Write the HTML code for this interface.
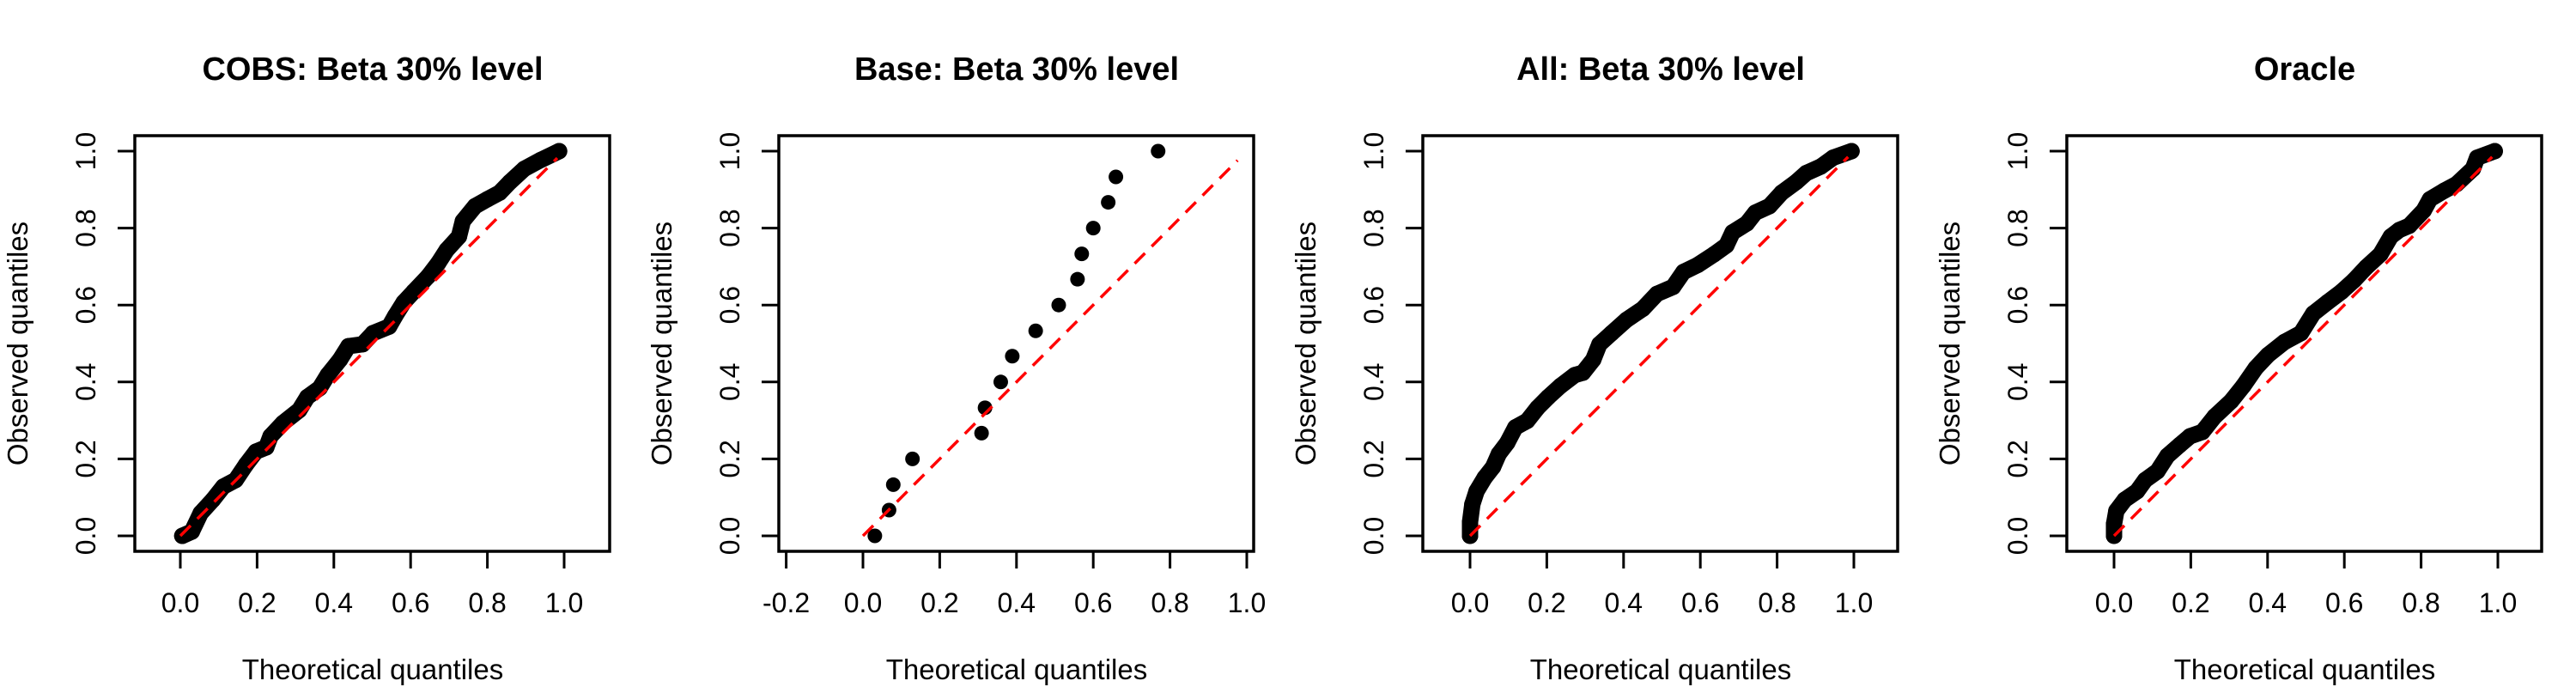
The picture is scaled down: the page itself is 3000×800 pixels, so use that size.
<!DOCTYPE html>
<html><head><meta charset="utf-8"><style>
html,body{margin:0;padding:0;background:#fff;}
svg{display:block;}
text{font-family:"Liberation Sans",Arial,sans-serif;fill:#000;}
</style></head><body>
<svg id="fig" width="3000" height="800" viewBox="0 0 3000 800" xmlns="http://www.w3.org/2000/svg"></svg>
<script>
const titles = ["COBS: Beta 30% level","Base: Beta 30% level","All: Beta 30% level","Oracle"];
const xTicks = [0,0.2,0.4,0.6,0.8,1.0];
const xTicksBase = [-0.2,0,0.2,0.4,0.6,0.8,1.0];
const yTicks = [0,0.2,0.4,0.6,0.8,1.0];
const cobsX = [0.005,0.03,0.053,0.085,0.112,0.144,0.171,0.197,0.224,0.235,0.267,0.31,0.331,0.363,0.384,0.416,0.438,0.475,0.502,0.544,0.56,0.582,0.608,0.646,0.672,0.694,0.726,0.736,0.768,0.8,0.832,0.859,0.896,0.939,0.987];
const cobsY = [0,0.011,0.059,0.094,0.128,0.145,0.185,0.219,0.23,0.259,0.293,0.327,0.361,0.384,0.418,0.458,0.493,0.498,0.527,0.544,0.572,0.607,0.635,0.675,0.709,0.743,0.778,0.818,0.857,0.875,0.892,0.92,0.954,0.977,1.0];
const baseX = [0.031,0.068,0.079,0.129,0.309,0.318,0.359,0.389,0.45,0.51,0.559,0.57,0.6,0.639,0.659,0.769];
const baseY = [0,0.067,0.133,0.2,0.267,0.333,0.4,0.467,0.533,0.6,0.667,0.733,0.8,0.867,0.933,1.0];
const allX = [0,0,0.006,0.017,0.038,0.06,0.075,0.097,0.118,0.149,0.176,0.204,0.236,0.273,0.294,0.321,0.337,0.369,0.407,0.45,0.487,0.529,0.556,0.593,0.636,0.668,0.684,0.721,0.743,0.78,0.812,0.85,0.876,0.914,0.946,0.994];
const allY = [0,0.036,0.082,0.116,0.151,0.179,0.213,0.242,0.282,0.299,0.333,0.361,0.39,0.418,0.424,0.458,0.498,0.527,0.561,0.59,0.629,0.647,0.686,0.704,0.732,0.755,0.789,0.812,0.84,0.857,0.892,0.92,0.943,0.96,0.983,1.0];
const oracleX = [0,0,0.006,0.028,0.06,0.081,0.113,0.139,0.171,0.198,0.23,0.262,0.305,0.337,0.369,0.401,0.444,0.487,0.519,0.556,0.593,0.625,0.657,0.694,0.721,0.743,0.769,0.807,0.823,0.86,0.892,0.935,0.946,0.992];
const oracleY = [0,0.031,0.065,0.094,0.116,0.145,0.168,0.208,0.236,0.259,0.27,0.31,0.35,0.39,0.436,0.47,0.504,0.527,0.578,0.607,0.635,0.664,0.698,0.732,0.778,0.795,0.806,0.846,0.875,0.897,0.914,0.954,0.983,1.0];
const refEnd = [0.982,0.976,0.985,0.985];

const NS="http://www.w3.org/2000/svg";
const svg=document.getElementById('fig');
function mk(tag,attrs,parent){const e=document.createElementNS(NS,tag);for(const k in attrs)e.setAttribute(k,attrs[k]);(parent||svg).appendChild(e);return e;}

const panels=[
 {xs:cobsX,ys:cobsY,ticks:xTicks,x0:210,dense:true},
 {xs:baseX,ys:baseY,ticks:xTicksBase,x0:255,dense:false},
 {xs:allX,ys:allY,ticks:xTicks,x0:212,dense:true},
 {xs:oracleX,ys:oracleY,ticks:xTicks,x0:212,dense:true}
];
const UX=447, Y0=624, UY=448;
panels.forEach((p,i)=>{
  const ox=750*i;
  const g=mk('g',{});
  
  
  const sx=v=>ox+p.x0+v*UX, sy=v=>Y0-v*UY;
  const t=mk('text',{x:ox+434,y:93,'text-anchor':'middle','font-size':38,'font-weight':'bold'},g);
  t.textContent=titles[i];
  
  
  const xa=mk('line',{x1:sx(p.ticks[0]),x2:sx(p.ticks[p.ticks.length-1]),y1:642,y2:642,stroke:'#000','stroke-width':3},g);
  
  
  p.ticks.forEach(v=>{
    const tk=mk('line',{x1:sx(v),x2:sx(v),y1:642,y2:662,stroke:'#000','stroke-width':3},g);
    
    
    const tl=mk('text',{x:sx(v),y:713,'text-anchor':'middle','font-size':32},g);
    tl.textContent=v.toFixed(1);
    
    
  });
  const ya=mk('line',{x1:ox+157,x2:ox+157,y1:sy(0),y2:sy(1),stroke:'#000','stroke-width':3},g);
  
  
  yTicks.forEach(v=>{
    const tk=mk('line',{x1:ox+137,x2:ox+157,y1:sy(v),y2:sy(v),stroke:'#000','stroke-width':3},g);
    
    
    const tl=mk('text',{x:0,y:0,'text-anchor':'middle','font-size':32,transform:`translate(${ox+111},${sy(v)}) rotate(-90)`},g);
    tl.textContent=v.toFixed(1);
    
    
  });
  const xl=mk('text',{x:ox+434,y:791,'text-anchor':'middle','font-size':33},g);
  xl.textContent='Theoretical quantiles';
  
  
  const yl=mk('text',{x:0,y:0,'text-anchor':'middle','font-size':33,transform:`translate(${ox+32},400) rotate(-90)`},g);
  yl.textContent='Observed quantiles';
  
  
  const bx=mk('rect',{x:ox+157,y:158,width:553,height:484,fill:'none',stroke:'#000','stroke-width':3.5},g);
  
  
  if(p.dense){
    const pl=mk('polyline',{points:p.xs.map((x,j)=>sx(x)+','+sy(p.ys[j])).join(' '),fill:'none',stroke:'#000','stroke-width':19,'stroke-linejoin':'round','stroke-linecap':'round'},g);
    
    
  }
  p.xs.forEach((x,j)=>{
    const c=mk('circle',{cx:sx(x),cy:sy(p.ys[j]),r:p.dense?9.5:8.5,fill:'#000'},g);
    
    
  });
  const rl=mk('line',{x1:sx(0),y1:sy(0),x2:sx(refEnd[i]),y2:sy(refEnd[i]),stroke:'#ff0000','stroke-width':3.5,'stroke-dasharray':'17 11'},g);
  
  
});
</script>
</body></html>
